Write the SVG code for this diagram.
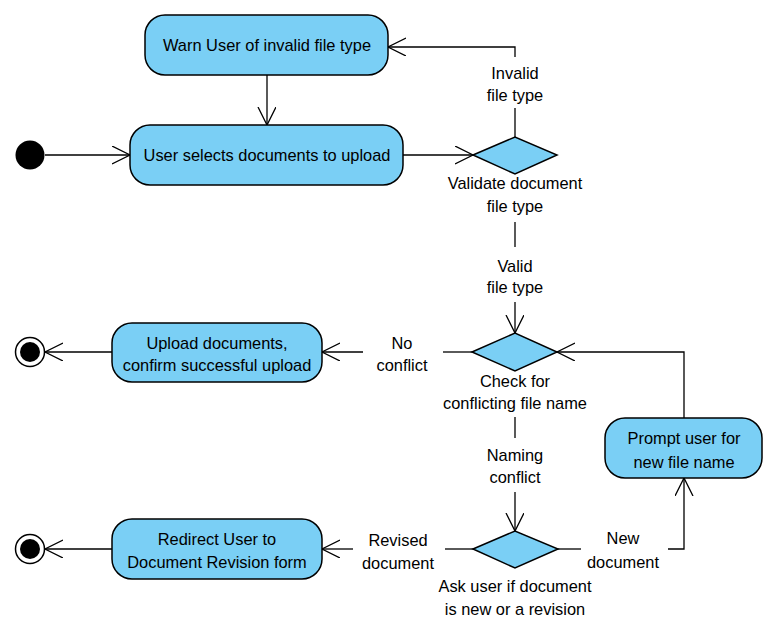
<svg xmlns="http://www.w3.org/2000/svg" width="776" height="631" viewBox="0 0 776 631">
<style>
.n{fill:#7acff5;stroke:#000;stroke-width:1.5}
.t{font-family:"Liberation Sans",Arial,sans-serif;font-size:16.4px;fill:#000;text-anchor:middle}
.c{fill:none;stroke:#000;stroke-width:1.3}
</style>
<defs>
<marker id="a" markerWidth="20" markerHeight="20" refX="18" refY="9" orient="auto" markerUnits="userSpaceOnUse">
<path d="M0,0 L18,9 L0,18" fill="none" stroke="#000" stroke-width="1.3"/>
</marker>
</defs>
<rect width="776" height="631" fill="#fff"/>
<g id="connectors">
<path class="c" d="M45,155 H130" marker-end="url(#a)"/>
<path class="c" d="M267,75 V125" marker-end="url(#a)"/>
<path class="c" d="M403,155 H473" marker-end="url(#a)"/>
<path class="c" d="M515,137 V108"/>
<path class="c" d="M515,57 V47 H388" marker-end="url(#a)"/>
<path class="c" d="M515,222 V247"/>
<path class="c" d="M515,302 V333" marker-end="url(#a)"/>
<path class="c" d="M472,352 H443"/>
<path class="c" d="M363,352 H322" marker-end="url(#a)"/>
<path class="c" d="M112,352 H45" marker-end="url(#a)"/>
<path class="c" d="M515,417 V438"/>
<path class="c" d="M515,492 V531" marker-end="url(#a)"/>
<path class="c" d="M473,549 H445"/>
<path class="c" d="M353,549 H322" marker-end="url(#a)"/>
<path class="c" d="M112,549 H45" marker-end="url(#a)"/>
<path class="c" d="M558,549 H581"/>
<path class="c" d="M668,549 H684 V478" marker-end="url(#a)"/>
<path class="c" d="M684,418 V352 H557" marker-end="url(#a)"/>
<text class="t" x="515" y="79">Invalid</text>
<text class="t" x="515" y="101">file type</text>
<text class="t" x="515" y="272">Valid</text>
<text class="t" x="515" y="293">file type</text>
<text class="t" x="402" y="349">No</text>
<text class="t" x="402" y="371">conflict</text>
<text class="t" x="515" y="461">Naming</text>
<text class="t" x="515" y="483">conflict</text>
<text class="t" x="398" y="546">Revised</text>
<text class="t" x="398" y="569">document</text>
<text class="t" x="623" y="544">New</text>
<text class="t" x="623" y="568">document</text>
</g>
<g id="start"><circle cx="30" cy="155" r="14.5" fill="#000"/></g>
<g id="warn"><rect class="n" x="145" y="15" width="243" height="60" rx="20"/><text class="t" x="267" y="51">Warn User of invalid file type</text></g>
<g id="select"><rect class="n" x="130" y="125" width="273" height="60" rx="20"/><text class="t" x="267" y="161">User selects documents to upload</text></g>
<g id="validate"><polygon class="n" points="473,155 515,137 557,155 515,174"/><text class="t" x="515" y="189">Validate document</text><text class="t" x="515" y="212">file type</text></g>
<g id="check"><polygon class="n" points="472,352 515,333 557,352 515,371"/><text class="t" x="515" y="387">Check for</text><text class="t" x="515" y="409">conflicting file name</text></g>
<g id="ask"><polygon class="n" points="473,549 515,531 558,549 515,568"/><text class="t" x="515" y="592">Ask user if document</text><text class="t" x="515" y="615">is new or a revision</text></g>
<g id="upload"><rect class="n" x="112" y="323" width="210" height="59" rx="20"/><text class="t" x="217" y="349">Upload documents,</text><text class="t" x="217" y="371">confirm successful upload</text></g>
<g id="redirect"><rect class="n" x="112" y="519" width="210" height="60" rx="20"/><text class="t" x="217" y="545">Redirect User to</text><text class="t" x="217" y="568">Document Revision form</text></g>
<g id="prompt"><rect class="n" x="605" y="418" width="157" height="60" rx="20"/><text class="t" x="684" y="444">Prompt user for</text><text class="t" x="684" y="468">new file name</text></g>
<g id="end1"><circle cx="30" cy="352" r="14.5" fill="#fff" stroke="#000" stroke-width="1.5"/><circle cx="30" cy="352" r="10" fill="#000"/></g>
<g id="end2"><circle cx="30" cy="549" r="14.5" fill="#fff" stroke="#000" stroke-width="1.5"/><circle cx="30" cy="549" r="10" fill="#000"/></g>
</svg>
